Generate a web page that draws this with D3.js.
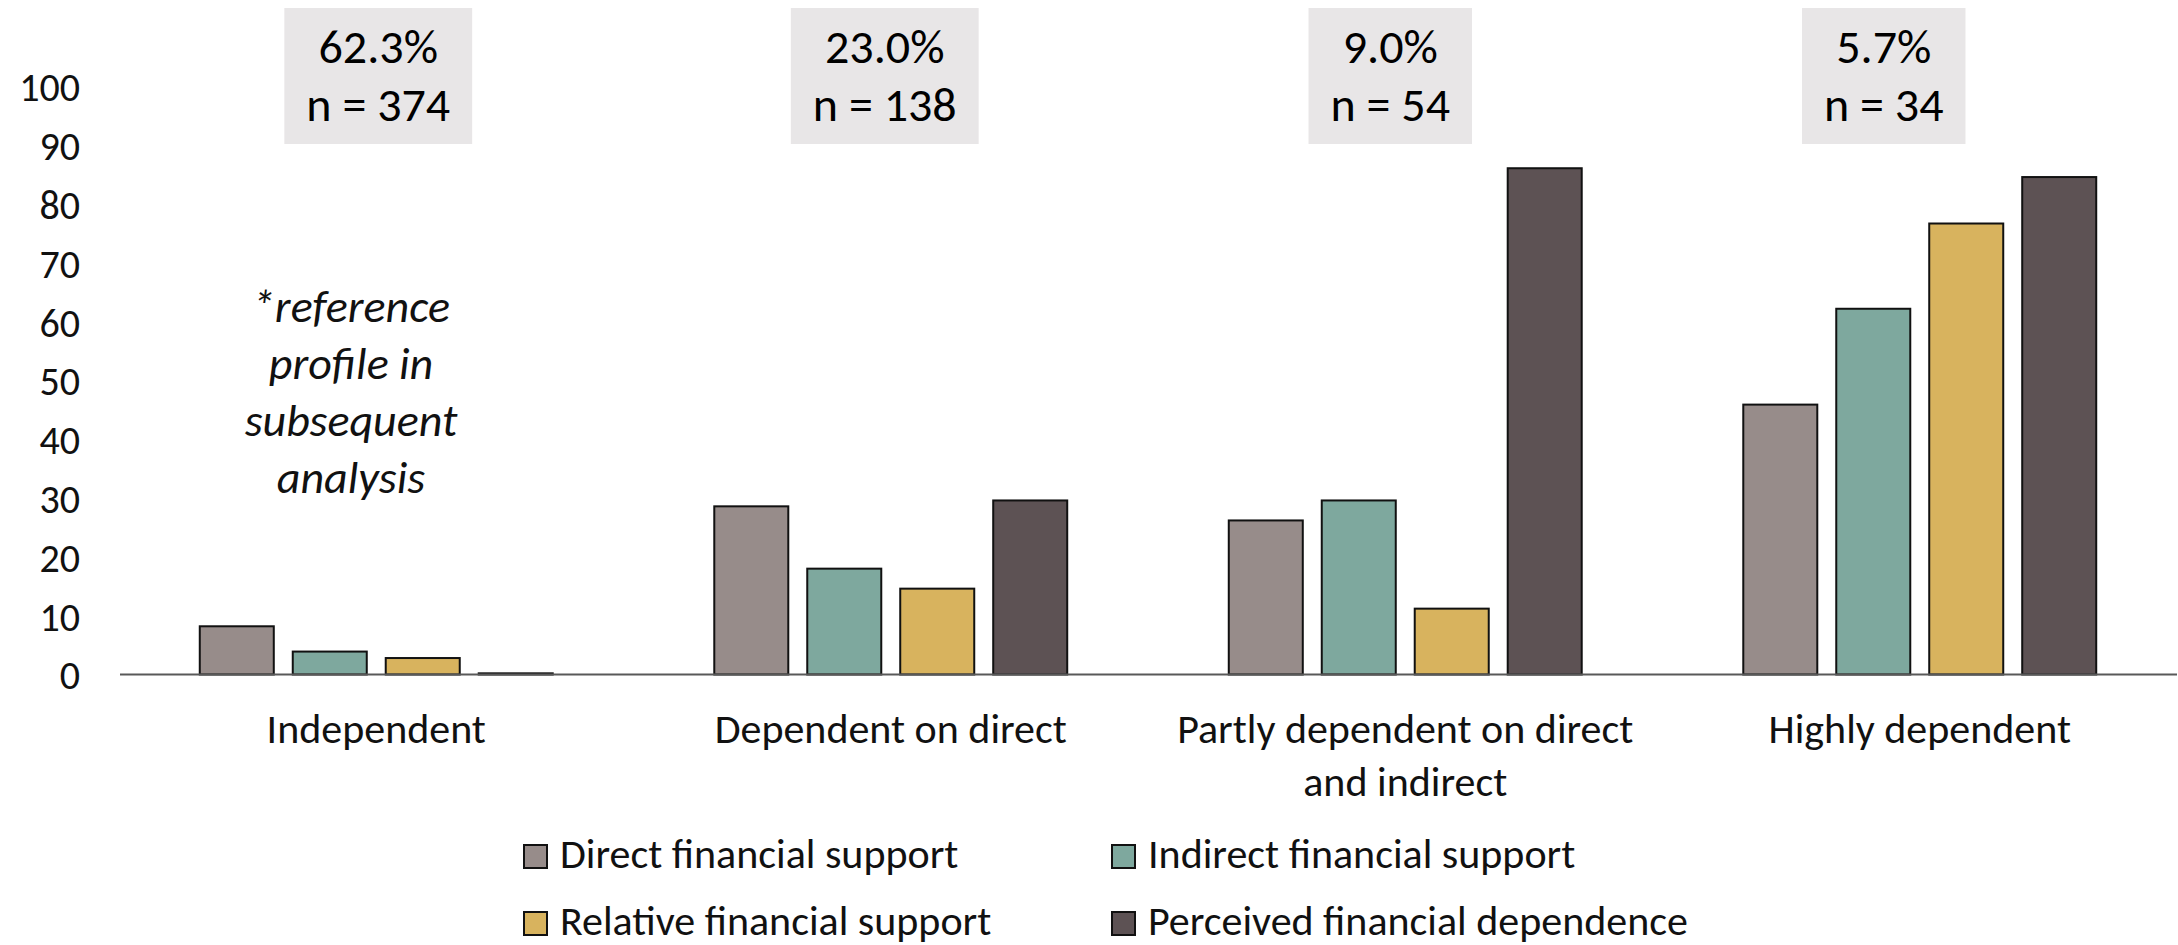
<!DOCTYPE html>
<html>
<head>
<meta charset="utf-8">
<script src="https://cdn.jsdelivr.net/npm/d3@7"></script>
<style>
  html, body { margin: 0; padding: 0; background: #ffffff; }
  svg { display: block; font-family: Calibri, Carlito, Lato, sans-serif; }
</style>
</head>
<body>
<svg id="chart" width="2178" height="945"></svg>
<script>
// Dependency profiles (x categories) and the four financial indicators (series)
const categories = ["Independent", "Dependent on direct", "Partly dependent on direct and indirect", "Highly dependent"];
const categoryLines = [["Independent"], ["Dependent on direct"], ["Partly dependent on direct", "and indirect"], ["Highly dependent"]];
const seriesNames = ["Direct financial support", "Indirect financial support", "Relative financial support", "Perceived financial dependence"];
const seriesColors = ["#978c8a", "#7ea89e", "#d8b35e", "#5d5254"];

const directSupport    = [8.2, 28.6, 26.2, 45.9];
const indirectSupport  = [3.9, 18.0, 29.6, 62.2];
const relativeSupport  = [2.8, 14.6, 11.2, 76.7];
const perceivedDepend  = [0.2, 29.6, 86.1, 84.6];

// Share of respondents and group sizes per profile
const shareLabels = ["62.3%", "23.0%", "9.0%", "5.7%"];
const groupSizes  = ["n = 374", "n = 138", "n = 54", "n = 34"];

const yTicks = [0, 10, 20, 30, 40, 50, 60, 70, 80, 90, 100];
const footnoteLines = ["*reference", "profile in", "subsequent", "analysis"];

const seriesValues = [directSupport, indirectSupport, relativeSupport, perceivedDepend];
const rows = categories.map((c, i) => ({
  category: c,
  values: seriesNames.map((s, j) => ({ series: s, value: seriesValues[j][i], idx: j }))
}));

const svg = d3.select("#chart");
const baseY = 674.5, topY = 86.5;

const x0 = d3.scaleBand()
  .domain(categories)
  .range([119, 2177])
  .paddingInner(0.314)
  .paddingOuter(0.157);

const x1 = d3.scaleBand()
  .domain(seriesNames)
  .range([0, x0.bandwidth()])
  .paddingInner(0.204)
  .paddingOuter(0);

const y = d3.scaleLinear().domain([0, 100]).range([baseY, topY]);

// Y axis labels only (no line, no ticks)
const yAxis = svg.append("g")
  .attr("transform", "translate(80,0)")
  .call(d3.axisLeft(y).tickValues(yTicks).tickSize(0).tickPadding(0));
yAxis.select(".domain").remove();
yAxis.selectAll("text")
  .attr("font-family", "Calibri, Carlito, Lato, sans-serif")
  .attr("font-size", 40)
  .attr("fill", "#111")
  .attr("dy", "0.36em");

// Bars
const groups = svg.append("g").selectAll("g")
  .data(rows)
  .join("g")
  .attr("transform", d => `translate(${x0(d.category)},0)`);

groups.selectAll("rect")
  .data(d => d.values)
  .join("rect")
  .attr("x", d => x1(d.series))
  .attr("width", x1.bandwidth())
  .attr("y", d => y(d.value))
  .attr("height", d => baseY - y(d.value))
  .attr("fill", d => seriesColors[d.idx])
  .attr("stroke", "#111")
  .attr("stroke-width", 2);

// Category axis line
svg.append("line")
  .attr("x1", 120).attr("x2", 2177)
  .attr("y1", baseY).attr("y2", baseY)
  .attr("stroke", "#595959")
  .attr("stroke-width", 2);

// Category labels
const catG = svg.append("g");
categories.forEach((c, i) => {
  const cx = x0(c) + x0.bandwidth() / 2;
  const t = catG.append("text")
    .attr("x", cx)
    .attr("y", 743)
    .attr("text-anchor", "middle")
    .attr("font-size", 42)
    .attr("fill", "#111");
  categoryLines[i].forEach((line, k) => {
    t.append("tspan").attr("x", cx).attr("dy", k === 0 ? 0 : 53).text(line);
  });
});

// Share / n boxes above each profile
const boxShift = [2, -6, -15, -36];
const boxPad = 22;
const boxG = svg.append("g");
categories.forEach((c, i) => {
  const cx = x0(c) + x0.bandwidth() / 2 + boxShift[i];
  const g = boxG.append("g");
  const rect = g.append("rect").attr("fill", "#e8e6e7");
  const t1 = g.append("text").attr("x", cx).attr("y", 62.5)
    .attr("text-anchor", "middle").attr("font-size", 48).attr("fill", "#000").text(shareLabels[i]);
  const t2 = g.append("text").attr("x", cx).attr("y", 120.5)
    .attr("text-anchor", "middle").attr("font-size", 48).attr("fill", "#000").text(groupSizes[i]);
  const w = Math.max(t1.node().getComputedTextLength(), t2.node().getComputedTextLength()) + 2 * boxPad;
  rect.attr("x", cx - w / 2).attr("y", 8).attr("width", w).attr("height", 136);
});

// Footnote on the reference profile
const note = svg.append("text")
  .attr("x", 351)
  .attr("y", 322)
  .attr("text-anchor", "middle")
  .attr("font-size", 46)
  .attr("font-style", "italic")
  .attr("fill", "#111");
footnoteLines.forEach((line, k) => {
  note.append("tspan").attr("x", 351).attr("dy", k === 0 ? 0 : 57).text(line);
});

// Legend: two columns, two rows
const legendCols = [524, 1112];
const legendRows = [868, 935];
const legend = svg.append("g");
seriesNames.forEach((s, i) => {
  const lx = legendCols[i % 2];
  const ly = legendRows[Math.floor(i / 2)];
  legend.append("rect")
    .attr("x", lx).attr("y", ly - 23)
    .attr("width", 23).attr("height", 23)
    .attr("fill", seriesColors[i])
    .attr("stroke", "#111").attr("stroke-width", 2);
  legend.append("text")
    .attr("x", lx + 36).attr("y", ly)
    .attr("font-size", 42)
    .attr("fill", "#111")
    .text(s);
});
</script>
</body>
</html>
